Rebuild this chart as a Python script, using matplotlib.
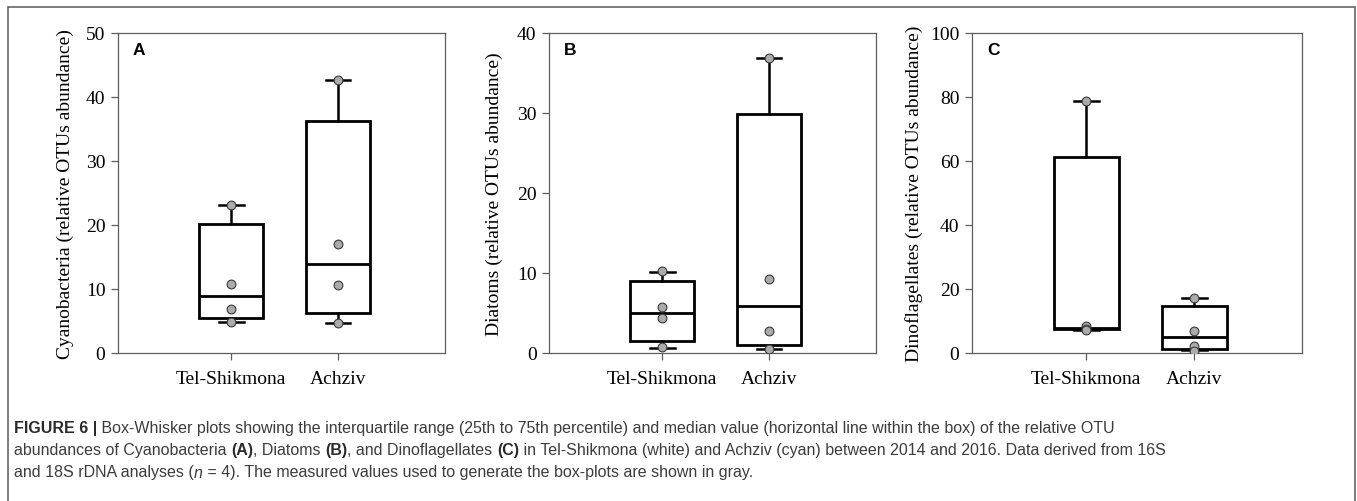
import matplotlib
matplotlib.use("Agg")
import matplotlib.pyplot as plt
from matplotlib.patches import Rectangle

plt.rcParams["font.family"] = ["Liberation Serif", "DejaVu Serif"]

SITES = ["Tel-Shikmona", "Achziv"]

# Cyanobacteria (A)
CYANO_Q1 = [5.4, 6.2]
CYANO_MED = [8.9, 13.9]
CYANO_Q3 = [20.1, 36.2]
CYANO_LO = [4.9, 4.7]
CYANO_HI = [23.2, 42.7]
CYANO_PTS = [[23.2, 10.8, 6.9, 4.9], [42.7, 17.1, 10.7, 4.7]]

# Diatoms (B)
DIAT_Q1 = [1.5, 1.0]
DIAT_MED = [4.95, 5.9]
DIAT_Q3 = [8.95, 29.9]
DIAT_LO = [0.6, 0.5]
DIAT_HI = [10.1, 36.9]
DIAT_PTS = [[10.2, 5.7, 4.4, 0.7], [36.9, 9.3, 2.75, 0.55]]

# Dinoflagellates (C)
DINO_Q1 = [7.4, 1.3]
DINO_MED = [7.9, 4.9]
DINO_Q3 = [61.1, 14.8]
DINO_LO = [7.1, 0.8]
DINO_HI = [78.6, 17.3]
DINO_PTS = [[78.6, 8.3, 7.6, 7.1], [17.3, 6.9, 2.3, 0.6]]

PANELS = [
    ("A", "Cyanobacteria (relative OTUs abundance)", 50, 10,
     CYANO_Q1, CYANO_MED, CYANO_Q3, CYANO_LO, CYANO_HI, CYANO_PTS),
    ("B", "Diatoms (relative OTUs abundance)", 40, 10,
     DIAT_Q1, DIAT_MED, DIAT_Q3, DIAT_LO, DIAT_HI, DIAT_PTS),
    ("C", "Dinoflagellates (relative OTUs abundance)", 100, 20,
     DINO_Q1, DINO_MED, DINO_Q3, DINO_LO, DINO_HI, DINO_PTS),
]

W, H = 1357, 502
fig = plt.figure(figsize=(W / 100, H / 100), dpi=100)

# axes boxes in pixels: left, width ; ylabel x offset (axes fraction)
AX_PX = [(118, 327, -0.136), (549, 327, -0.140), (972, 330, -0.148)]
SPINE = "#5e5e5e"

for (letter, ylab, ymax, ystep, q1, med, q3, lo, hi, pts), (lx, wx, ylx) in zip(PANELS, AX_PX):
    ax = fig.add_axes([lx / W, 1 - 354 / H, wx / W, 320 / H])
    stats = []
    for i in range(len(SITES)):
        stats.append(dict(q1=q1[i], med=med[i], q3=q3[i], whislo=lo[i],
                          whishi=hi[i], fliers=[], label=SITES[i]))
    ax.bxp(stats, positions=[1, 2], widths=0.6, capwidths=0.23,
           showfliers=False, patch_artist=True,
           boxprops=dict(facecolor="white", edgecolor="black", linewidth=2.0),
           medianprops=dict(color="black", linewidth=2.0),
           whiskerprops=dict(color="black", linewidth=1.8),
           capprops=dict(color="black", linewidth=1.8))
    for i, p in enumerate(pts):
        ax.scatter([i + 1] * len(p), p, s=40, color="#ababab",
                   edgecolors="#3a3a3a", linewidths=0.8, zorder=5)
    ax.set_xlim(-0.06, 3.0)
    ax.set_ylim(0, ymax)
    ax.set_yticks(range(0, ymax + 1, ystep))
    ax.set_xticks([1, 2])
    ax.set_xticklabels(SITES)
    ax.tick_params(axis="both", direction="out", length=5, width=0.9,
                   color=SPINE, labelsize=14)
    ax.tick_params(axis="x", pad=7)
    ax.tick_params(axis="y", pad=4)
    for s in ax.spines.values():
        s.set_color(SPINE)
        s.set_linewidth(0.9)
    ax.set_ylabel(ylab, fontsize=14)
    ax.yaxis.set_label_coords(ylx, 0.5)
    ax.text(0.045, 0.948, letter, transform=ax.transAxes, ha="left", va="center",
            fontsize=12.5, fontweight="bold", family=["Liberation Sans"])

# outer frame (continues below the crop)
fig.patches.append(Rectangle((8 / W, -0.05), (1355 - 8) / W, 1.05 - 8 / H,
                             transform=fig.transFigure, fill=False,
                             edgecolor="#666666", linewidth=1.2))

# caption with mixed bold / italic runs
CAPTION = [
    [("FIGURE 6 |", "bold", "normal"),
     (" Box-Whisker plots showing the interquartile range (25th to 75th percentile) and median value "
      "(horizontal line within the box) of the relative OTU", "normal", "normal")],
    [("abundances of Cyanobacteria ", "normal", "normal"), ("(A)", "bold", "normal"),
     (", Diatoms ", "normal", "normal"), ("(B)", "bold", "normal"),
     (", and Dinoflagellates ", "normal", "normal"), ("(C)", "bold", "normal"),
     (" in Tel-Shikmona (white) and Achziv (cyan) between 2014 and 2016. Data derived from 16S",
      "normal", "normal")],
    [("and 18S rDNA analyses (", "normal", "normal"), ("n", "normal", "italic"),
     (" = 4). The measured values used to generate the box-plots are shown in gray.",
      "normal", "normal")],
]
LINE_Y = [429, 451, 473]

renderer = fig.canvas.get_renderer()
for runs, ypx in zip(CAPTION, LINE_Y):
    x = 14 / W
    for s, wt, st in runs:
        t = fig.text(x, 1 - ypx / H, s, ha="left", va="center", fontsize=11.5,
                     fontweight=wt, fontstyle=st, color="#2a2a2a" if wt == "bold" else "#3c3c3c",
                     family=["Liberation Sans", "DejaVu Sans"])
        bb = t.get_window_extent(renderer)
        x += bb.width / W

fig.savefig("out.png", dpi=100)
